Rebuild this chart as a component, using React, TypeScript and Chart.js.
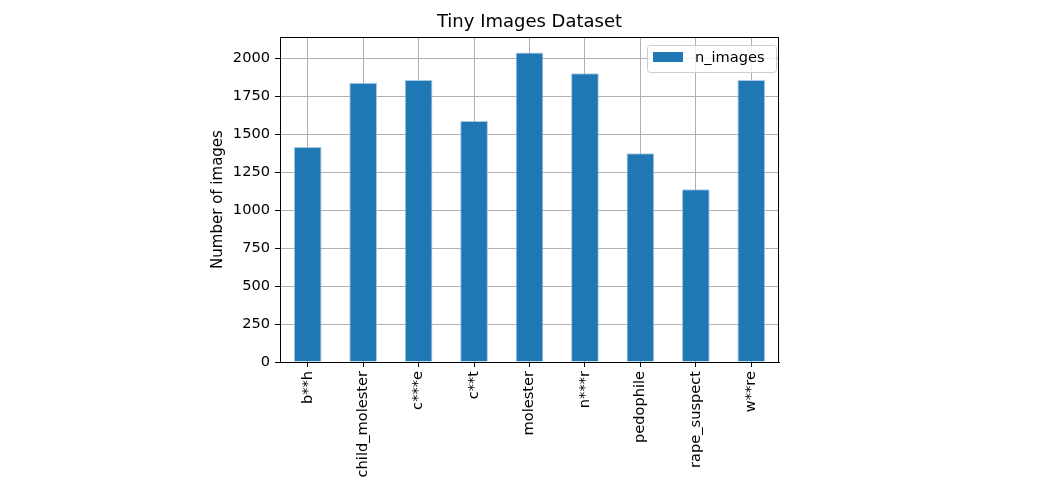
import React, { useEffect, useRef } from "react";
import { Chart, registerables } from "chart.js";

Chart.register(...registerables);

const categories = ["b**h", "child_molester", "c***e", "c**t", "molester", "n***r", "pedophile", "rape_suspect", "w**re"];
const nImages = [1417, 1841, 1858, 1589, 2040, 1903, 1375, 1139, 1858];
const seriesName = "n_images";
const chartTitle = "Tiny Images Dataset";
const yTitle = "Number of images";

const FONT = "'DejaVu Sans', sans-serif";
const TEXT = 14.6;

const decorPlugin = {
  id: "decor",
  afterDraw(chart: any) {
    const { ctx, chartArea } = chart;
    const { left, right, top, bottom } = chartArea;
    ctx.save();
    // frame
    ctx.strokeStyle = "#000";
    ctx.lineWidth = 1;
    ctx.strokeRect(left + 0.5, top + 0.5, right - left - 1, bottom - top);
    // title
    ctx.fillStyle = "#000";
    ctx.font = `18px ${FONT}`;
    ctx.textAlign = "center";
    ctx.textBaseline = "middle";
    ctx.fillText(chartTitle, (left + right) / 2, 22);
    // y title
    ctx.save();
    ctx.translate(218, (top + bottom) / 2);
    ctx.rotate(-Math.PI / 2);
    ctx.font = `15px ${FONT}`;
    ctx.fillText(yTitle, 0, 0);
    ctx.restore();
    // legend
    const lx = 647.5, ly = 45.5, lw = 129, lh = 27, r = 3;
    ctx.beginPath();
    ctx.moveTo(lx + r, ly);
    ctx.lineTo(lx + lw - r, ly);
    ctx.quadraticCurveTo(lx + lw, ly, lx + lw, ly + r);
    ctx.lineTo(lx + lw, ly + lh - r);
    ctx.quadraticCurveTo(lx + lw, ly + lh, lx + lw - r, ly + lh);
    ctx.lineTo(lx + r, ly + lh);
    ctx.quadraticCurveTo(lx, ly + lh, lx, ly + lh - r);
    ctx.lineTo(lx, ly + r);
    ctx.quadraticCurveTo(lx, ly, lx + r, ly);
    ctx.closePath();
    ctx.fillStyle = "rgba(255,255,255,0.8)";
    ctx.fill();
    ctx.strokeStyle = "#cccccc";
    ctx.lineWidth = 1;
    ctx.stroke();
    ctx.fillStyle = "#1f77b4";
    ctx.fillRect(653, 52, 30, 10);
    ctx.fillStyle = "#000";
    ctx.font = `${TEXT}px ${FONT}`;
    ctx.textAlign = "left";
    ctx.textBaseline = "middle";
    ctx.fillText(seriesName, 695, 58);
    ctx.restore();
  },
};

export default function App() {
  const ref = useRef<HTMLCanvasElement>(null);
  useEffect(() => {
    if (!ref.current) return;
    Chart.defaults.font.family = FONT;
    const chart = new Chart(ref.current, {
      type: "bar",
      data: {
        labels: categories,
        datasets: [
          {
            label: seriesName,
            data: nImages,
            backgroundColor: "#1f77b4",
            borderColor: "rgba(160,195,225,0.9)",
            borderWidth: 1,
            barPercentage: 0.5,
            categoryPercentage: 1,
          },
        ],
      },
      options: {
        animation: false,
        responsive: true,
        maintainAspectRatio: false,
        layout: { padding: { left: 0, top: 37, right: 266, bottom: 0 } },
        plugins: {
          legend: { display: false },
          title: { display: false },
          tooltip: { enabled: false },
        },
        scales: {
          x: {
            z: 1,
            afterFit(scale: any) {
              scale.height = 126;
            },
            grid: {
              offset: false,
              color: "#b0b0b0",
              lineWidth: 1,
              tickColor: "#000",
              tickLength: 5,
            },
            border: { color: "#000", width: 1 },
            ticks: {
              color: "#000",
              font: { size: TEXT, family: FONT },
              minRotation: 90,
              maxRotation: 90,
              autoSkip: false,
              padding: 4,
            },
          },
          y: {
            z: 1,
            min: 0,
            max: 2142,
            afterFit(scale: any) {
              scale.width = 280;
            },
            afterBuildTicks(scale: any) {
              scale.ticks = scale.ticks.filter((t: any) => t.value % 250 === 0);
            },
            grid: {
              color: "#b0b0b0",
              lineWidth: 1,
              tickColor: "#000",
              tickLength: 5,
            },
            border: { color: "#000", width: 1 },
            ticks: {
              stepSize: 250,
              color: "#000",
              font: { size: TEXT, family: FONT },
              padding: 5,
              callback: (v: any) => String(v),
            },
          },
        },
      },
      plugins: [decorPlugin],
    });
    return () => chart.destroy();
  }, []);
  return (
    <div style={{ position: "fixed", left: 0, top: 0, width: 1045, height: 488, background: "#fff" }}>
      <canvas ref={ref} />
    </div>
  );
}
